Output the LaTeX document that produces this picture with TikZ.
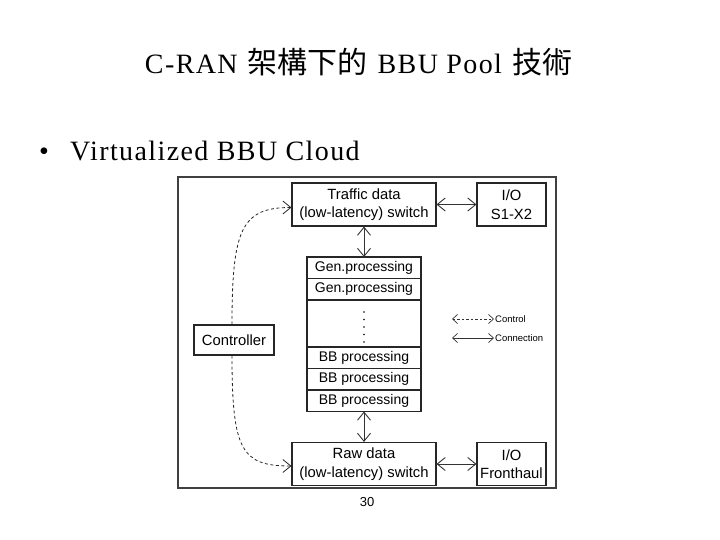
\documentclass[tikz,border=0pt]{standalone}
\usepackage{fontspec}
\setmainfont{Liberation Serif}
\setsansfont{Liberation Sans}
\newfontfamily\cjkfont{Noto Sans CJK TC}
\usetikzlibrary{positioning,arrows.meta}
\tikzset{
    >={Straight Barb[length=8pt,width=13pt]},
    box/.style={rectangle, draw=black!85, line width=1.1pt, align=center, inner sep=0pt, font=\sffamily\fontsize{14.8}{18.5}\selectfont},
    switchbox/.style={box, minimum width=144pt, minimum height=43pt},
    iobox/.style={box, minimum width=69pt, minimum height=43pt},
    ctrlbox/.style={box, minimum width=80pt, minimum height=30pt},
    procrow/.style={box, outer sep=0pt, minimum width=114pt, minimum height=21.5pt, font=\sffamily\fontsize{14}{16}\selectfont},
    link/.style={<->, line width=0.9pt, draw=black!80},
    ctl/.style={->, line width=0.8pt, draw=black!85, dash pattern=on 3pt off 2.5pt},
    keytext/.style={anchor=west, inner sep=1pt, font=\sffamily\fontsize{9.5}{11}\selectfont},
    keyarrow/.style={<->, line width=0.7pt, draw=black!80, >={Straight Barb[length=5pt,width=9pt]}}
}
\newcommand\cjkbig[1]{{\cjkfont\fontsize{30}{32}\selectfont #1}}

\begin{document}
\begin{tikzpicture}[x=1pt, y=-1pt]
    \useasboundingbox (0,0) rectangle (720,540);

    % slide heading
    \node[anchor=base, inner sep=0pt, font=\fontsize{28}{32}\selectfont\addfontfeature{LetterSpace=5}] (title) at (358.5,74)
        {C-RAN\hspace{10pt}\cjkbig{架構下的}\hspace{10pt}BBU Pool\hspace{10pt}\cjkbig{技術}};
    \node[anchor=base, font=\fontsize{28}{32}\selectfont] (dot) at (44,161) {•};
    \node[anchor=base west, inner sep=0pt, font=\fontsize{28}{32}\selectfont\addfontfeature{LetterSpace=5}] (bullet) at (70,161) {Virtualized BBU Cloud};

    % the figure
    \node[draw=black!75, line width=1.3pt, inner sep=0pt, minimum width=378pt, minimum height=311pt] (frame) at (367,332.5) {};

    \node[switchbox] (traffic) at (364,204.5) {Traffic data\\(low-latency)\ switch};
    \node[iobox] (ios) at (511.5,204.5) {I/O\\S1-X2};

    \node[procrow] (gen1) at (364,267.75) {Gen.processing};
    \node[procrow, below=0pt of gen1] (gen2) {Gen.processing};
    \node[procrow, minimum height=47pt, below=0pt of gen2] (dots) {};
    \node[procrow, below=0pt of dots] (bb1) {BB processing};
    \node[procrow, below=0pt of bb1] (bb2) {BB processing};
    \node[procrow, below=0pt of bb2] (bb3) {BB processing};
    \draw[line width=1.8pt, line cap=round, dash pattern=on 0pt off 7.5pt]
        ([yshift=-12pt]dots.north) -- ([yshift=4pt]dots.south);

    \node[switchbox] (raw) at (364,464) {Raw data\\(low-latency)\ switch};
    \node[iobox] (iofh) at (511.5,464) {I/O\\Fronthaul};

    \node[ctrlbox] (ctrl) at (234,340) {Controller};

    % connections
    \draw[link] (traffic) -- (ios);
    \draw[link] (traffic) -- (gen1);
    \draw[link] (bb3) -- (raw);
    \draw[link] (raw) -- (iofh);

    % control
    \draw[ctl] ([xshift=-2pt]ctrl.north) .. controls +(0,-95) and +(-50,0) .. ([yshift=-3pt]traffic.west);
    \draw[ctl] ([xshift=-2pt]ctrl.south) .. controls +(0,95) and +(-50,0) .. ([yshift=-2pt]raw.west);

    % key
    \coordinate (keyctl) at (452,319);
    \coordinate (keycon) at (452,338);
    \node[keytext] (ctltxt) at (494,319) {Control};
    \node[keytext] (contxt) at (494,338) {Connection};
    \draw[keyarrow, dash pattern=on 2.5pt off 2pt] (keyctl) -- (ctltxt.west);
    \draw[keyarrow] (keycon) -- (contxt.west);

    \node[font=\sffamily\fontsize{13}{15}\selectfont] (page) at (367,502) {30};
\end{tikzpicture}
\end{document}
